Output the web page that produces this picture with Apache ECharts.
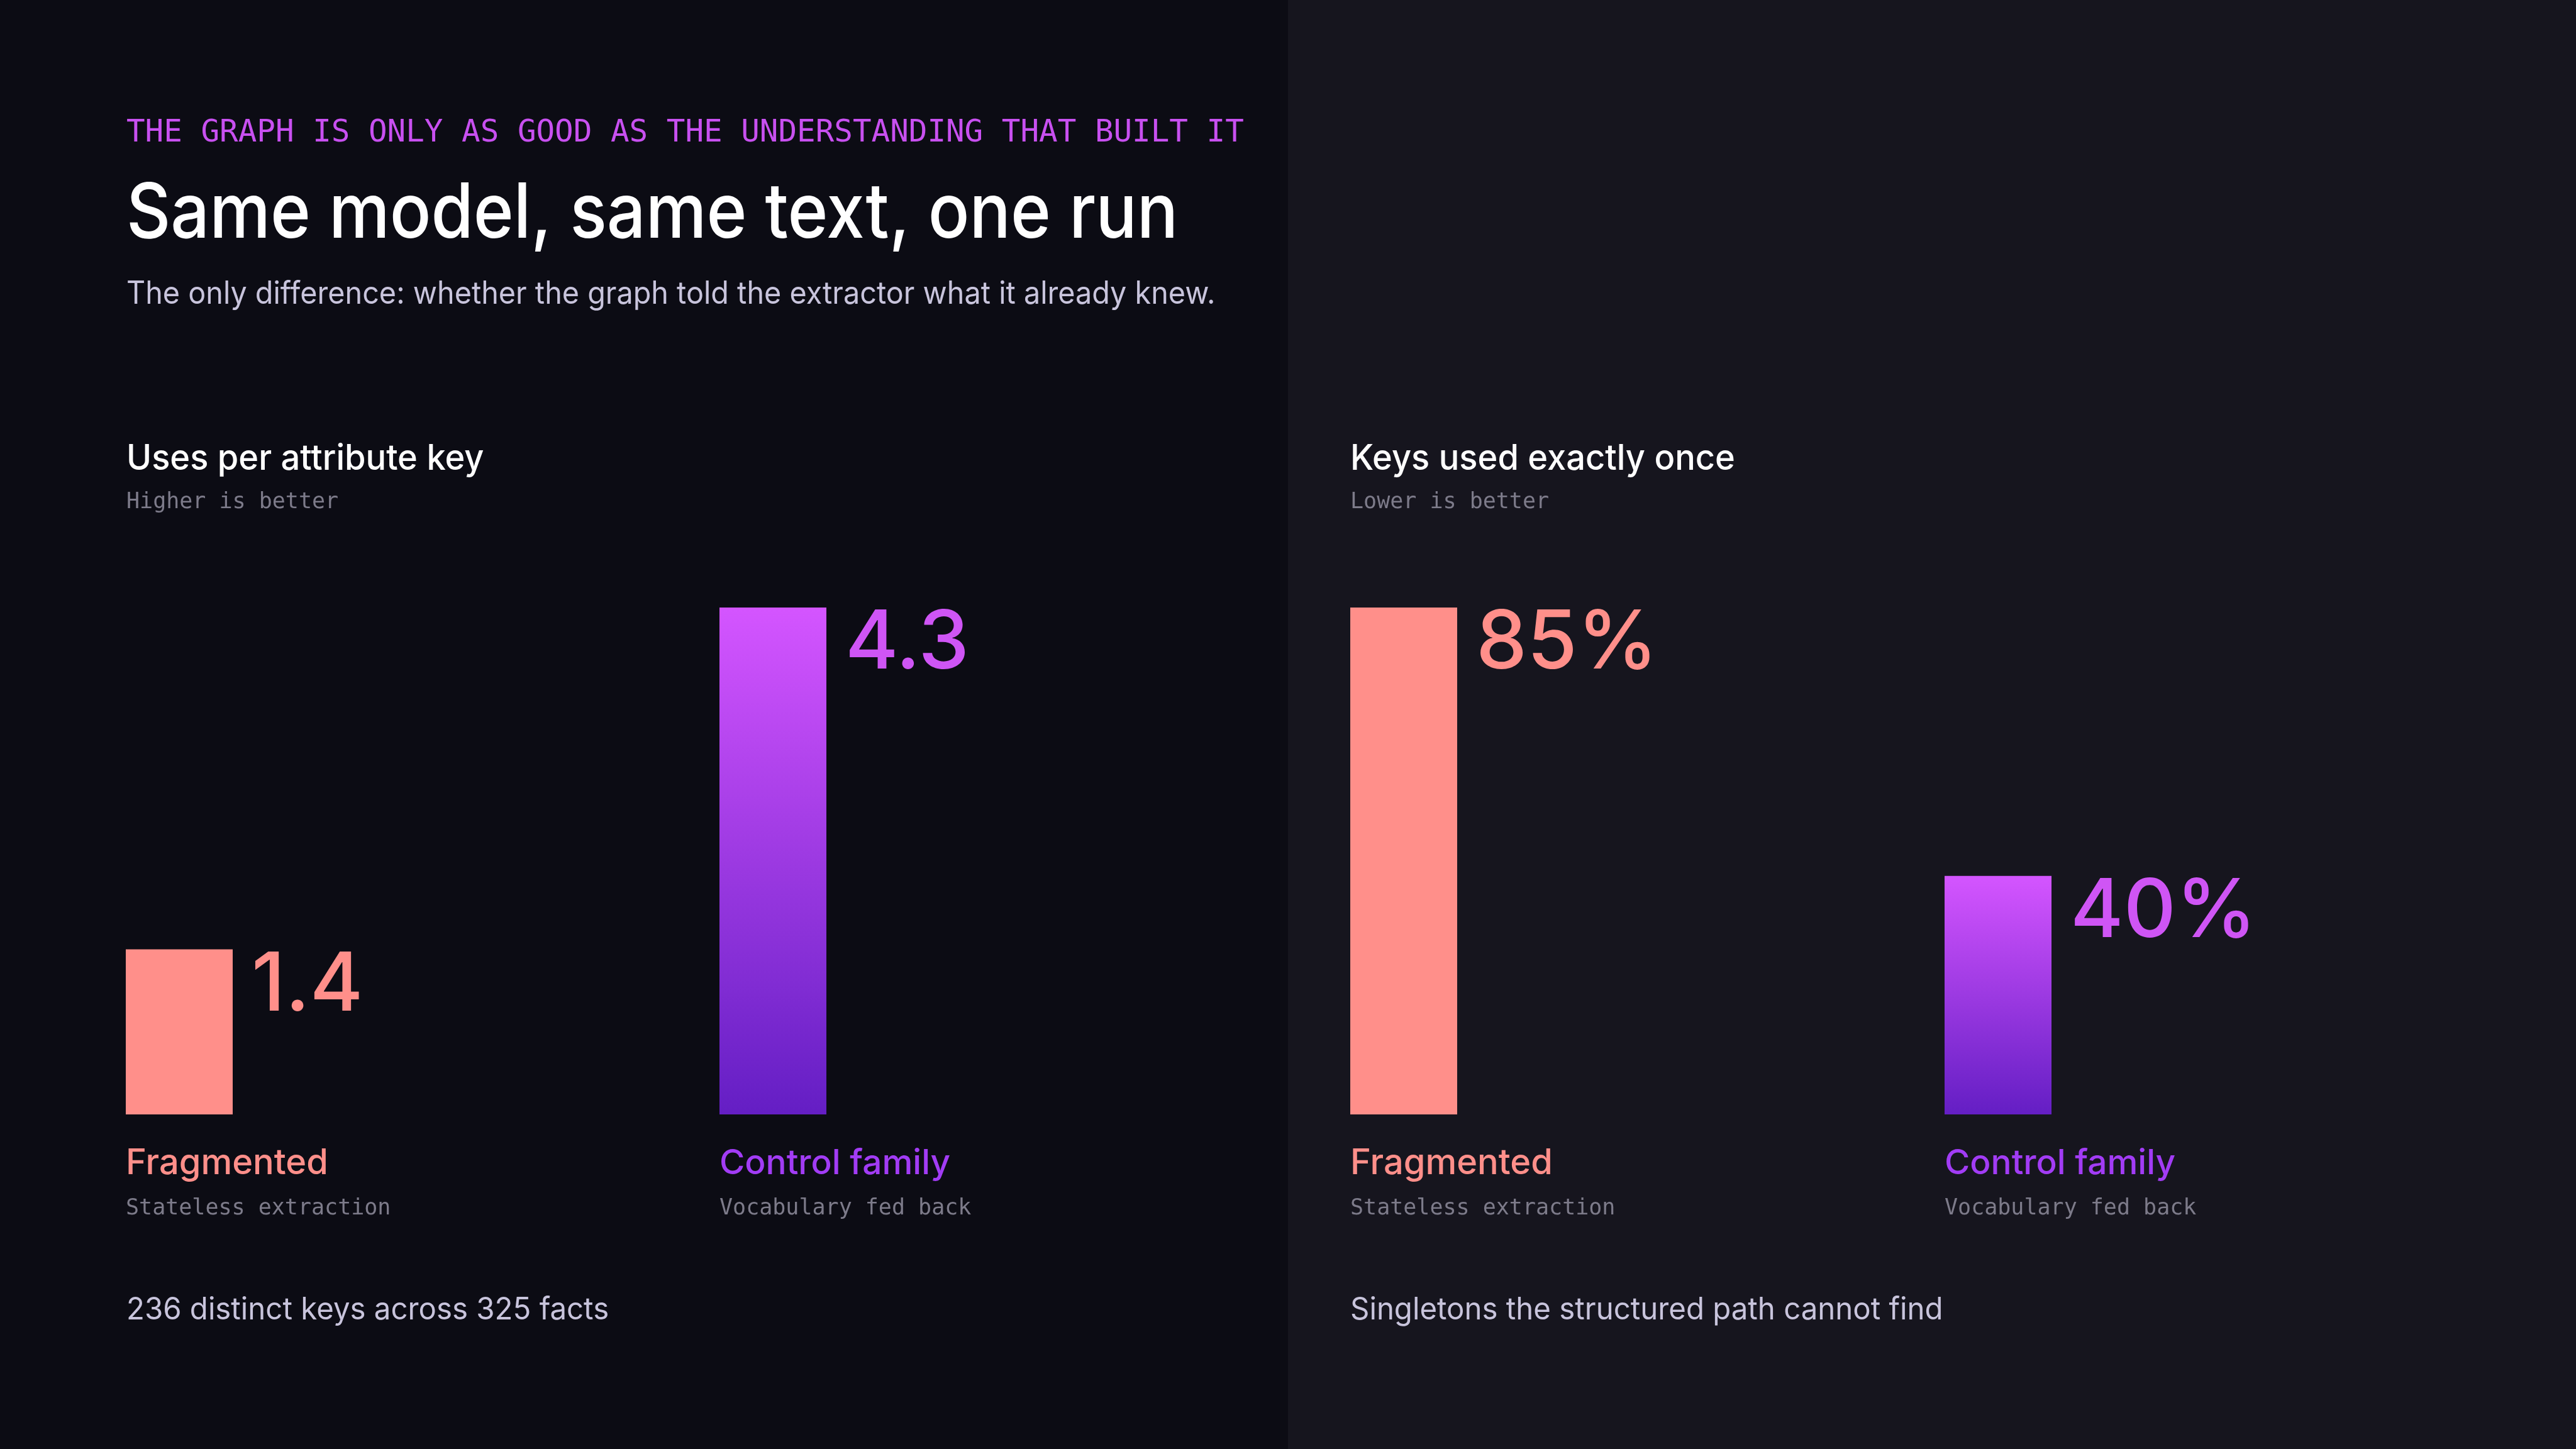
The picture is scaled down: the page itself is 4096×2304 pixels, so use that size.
<!DOCTYPE html>
<html><head><meta charset="utf-8">
<script src="https://cdn.jsdelivr.net/npm/echarts@6/dist/echarts.min.js"></script>
<style>html,body{margin:0;padding:0;background:#0c0c14}#c{width:4096px;height:2304px}</style>
</head><body><div id="c"></div>
<script>
// ---- data ----
const categories = ['Fragmented', 'Control family'];
const subLabels = ['Stateless extraction', 'Vocabulary fed back'];
const usesPerKey = [1.4, 4.3];
const singletonPct = [85, 40];
const eyebrow = 'THE GRAPH IS ONLY AS GOOD AS THE UNDERSTANDING THAT BUILT IT';
const titleText = 'Same model, same text, one run';
const subtitleText = 'The only difference: whether the graph told the extractor what it already knew.';
const panelTitles = ['Uses per attribute key', 'Keys used exactly once'];
const panelHints = ['Higher is better', 'Lower is better'];
const panelNotes = ['236 distinct keys across 325 facts', 'Singletons the structured path cannot find'];

// ---- style ----
const SALMON = '#ff8f8a';
const VIOLET_LABEL = '#cf55f5';
const VIOLET_NAME = '#a23cf5';
const SANS = 'Inter';
const MONO = '"DejaVu Sans Mono"';
const purpleGrad = () => new echarts.graphic.LinearGradient(0, 0, 0, 1, [
  { offset: 0, color: '#d455ff' }, { offset: 1, color: '#641ec4' }]);

const chart = echarts.init(document.getElementById('c'), null, { renderer: 'canvas' });

function valueSeries(idx, values, fmt) {
  return {
    type: 'bar', xAxisIndex: idx, yAxisIndex: idx, barWidth: 170, barGap: '-100%',
    data: values.map((v, i) => ({
      value: v,
      itemStyle: { color: i === 0 ? SALMON : purpleGrad() },
      label: { color: i === 0 ? SALMON : VIOLET_LABEL }
    })),
    label: {
      show: true, position: ['100%', 0], offset: [30, -6],
      fontFamily: SANS, fontWeight: 500, fontSize: 129,
      formatter: p => fmt(p.value)
    },
    silent: true, animation: false
  };
}
function nameSeries(idx, values) {
  return {
    type: 'bar', xAxisIndex: idx, yAxisIndex: idx, barWidth: 170, barGap: '-100%',
    data: values, itemStyle: { color: 'rgba(0,0,0,0)' },
    label: {
      show: true, position: [0, '100%'], offset: [0, 42],
      formatter: p => '{n' + p.dataIndex + '|' + categories[p.dataIndex] + '}\n{s|' + subLabels[p.dataIndex] + '}',
      rich: {
        n0: { fontFamily: SANS, fontWeight: 500, fontSize: 56, color: SALMON, lineHeight: 72 },
        n1: { fontFamily: SANS, fontWeight: 500, fontSize: 55, color: VIOLET_NAME, lineHeight: 72 },
        s: { fontFamily: MONO, fontSize: 35, color: '#7d7b8a', lineHeight: 71 }
      }
    },
    silent: true, animation: false
  };
}

const texts = [];
function txt(x, y, text, font, fill, sx) {
  texts.push({ type: 'text', x: x, y: y, scaleX: sx || 1, silent: true,
    style: { text: text, font: font, fill: fill, verticalAlign: 'top', align: 'left' } });
}
txt(201, 188, eyebrow, '49.2px ' + MONO, '#c850f0');
txt(201, 281, titleText, '500 121px ' + SANS, '#ffffff', 0.9);
txt(201, 443, subtitleText, '400 50px ' + SANS, '#c8c4dc', 0.935);
[201, 2147].forEach((x, k) => {
  txt(x, 702, panelTitles[k], '500 56px ' + SANS, '#ffffff', 0.968);
  txt(x, 781, panelHints[k], '35px ' + MONO, '#7d7b8a');
  txt(x, 2059, panelNotes[k], '400 49px ' + SANS, '#c8c4dc', 0.967);
});

chart.setOption({
  backgroundColor: '#0c0c14',
  animation: false,
  graphic: [
    { type: 'rect', z: -10, silent: true, shape: { x: 2048, y: 0, width: 2048, height: 2304 }, style: { fill: '#16151e' } }
  ].concat(texts),
  grid: [
    { left: 285, top: 966, width: 944, height: 806 },
    { left: 2232, top: 966, width: 945, height: 806 }
  ],
  xAxis: [0, 1].map(i => ({ type: 'category', gridIndex: i, data: categories, boundaryGap: false, show: false })),
  yAxis: [0, 1].map(i => ({ type: 'value', gridIndex: i, min: 0, max: 'dataMax', show: false, splitLine: { show: false } })),
  series: [
    nameSeries(0, usesPerKey),
    valueSeries(0, usesPerKey, v => v.toFixed(1)),
    nameSeries(1, singletonPct),
    valueSeries(1, singletonPct, v => v + '%')
  ]
});
</script></body></html>
